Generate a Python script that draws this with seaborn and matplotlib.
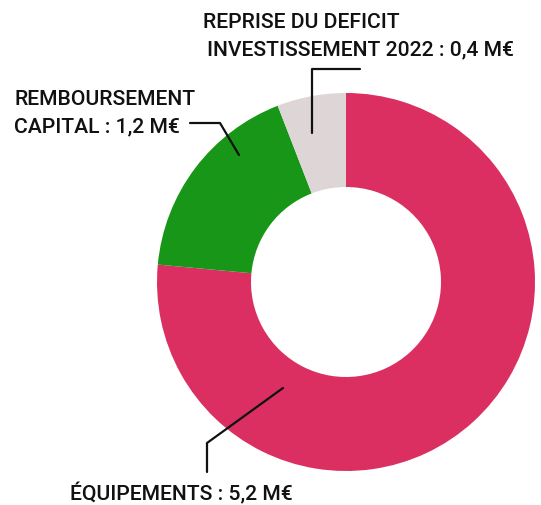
import matplotlib
matplotlib.use("Agg")
import matplotlib.pyplot as plt
import seaborn as sns

# values in M€
labels = ["ÉQUIPEMENTS", "REMBOURSEMENT CAPITAL", "REPRISE DU DEFICIT INVESTISSEMENT 2022"]
values = [5.2, 1.2, 0.4]
colors = ["#DB2F62", "#189617", "#DDD5D6"]

sns.set_theme(style="white")
plt.rcParams["font.family"] = ["Roboto", "DejaVu Sans"]

W, H = 541, 505
fig = plt.figure(figsize=(W / 100, H / 100), dpi=100)
ax = fig.add_axes([0, 0, 1, 1])


def fy(y):
    # image y (top-down) to axis y
    return H - y


ax.pie(
    values,
    colors=colors,
    startangle=90,
    counterclock=False,
    radius=189,
    center=(346, fy(282)),
    wedgeprops=dict(width=94, linewidth=0),
    frame=True,
)
ax.set_xlim(0, W)
ax.set_ylim(0, H)
ax.set_aspect("equal")
ax.axis("off")

txt = dict(fontsize=15.2, fontweight="medium", color="#111111", va="baseline")

ax.text(203, fy(28), "REPRISE DU DEFICIT", ha="left", **txt)
ax.text(207, fy(55), "INVESTISSEMENT 2022 : 0,4 M€", ha="left", **txt)
ax.text(14, fy(105), "REMBOURSEMENT", ha="left", **txt)
ax.text(14, fy(132), "CAPITAL : 1,2 M€", ha="left", **txt)
ax.text(70, fy(500), "ÉQUIPEMENTS : 5,2 M€", ha="left", **txt)

line = dict(color="#111111", linewidth=1.6)
ax.plot([360, 312, 312], [fy(69), fy(69), fy(133)], **line)
ax.plot([190, 220, 239], [fy(123), fy(123), fy(155)], **line)
ax.plot([207, 207, 283], [fy(472), fy(443), fy(388)], **line)

fig.savefig("out.png", dpi=100)
